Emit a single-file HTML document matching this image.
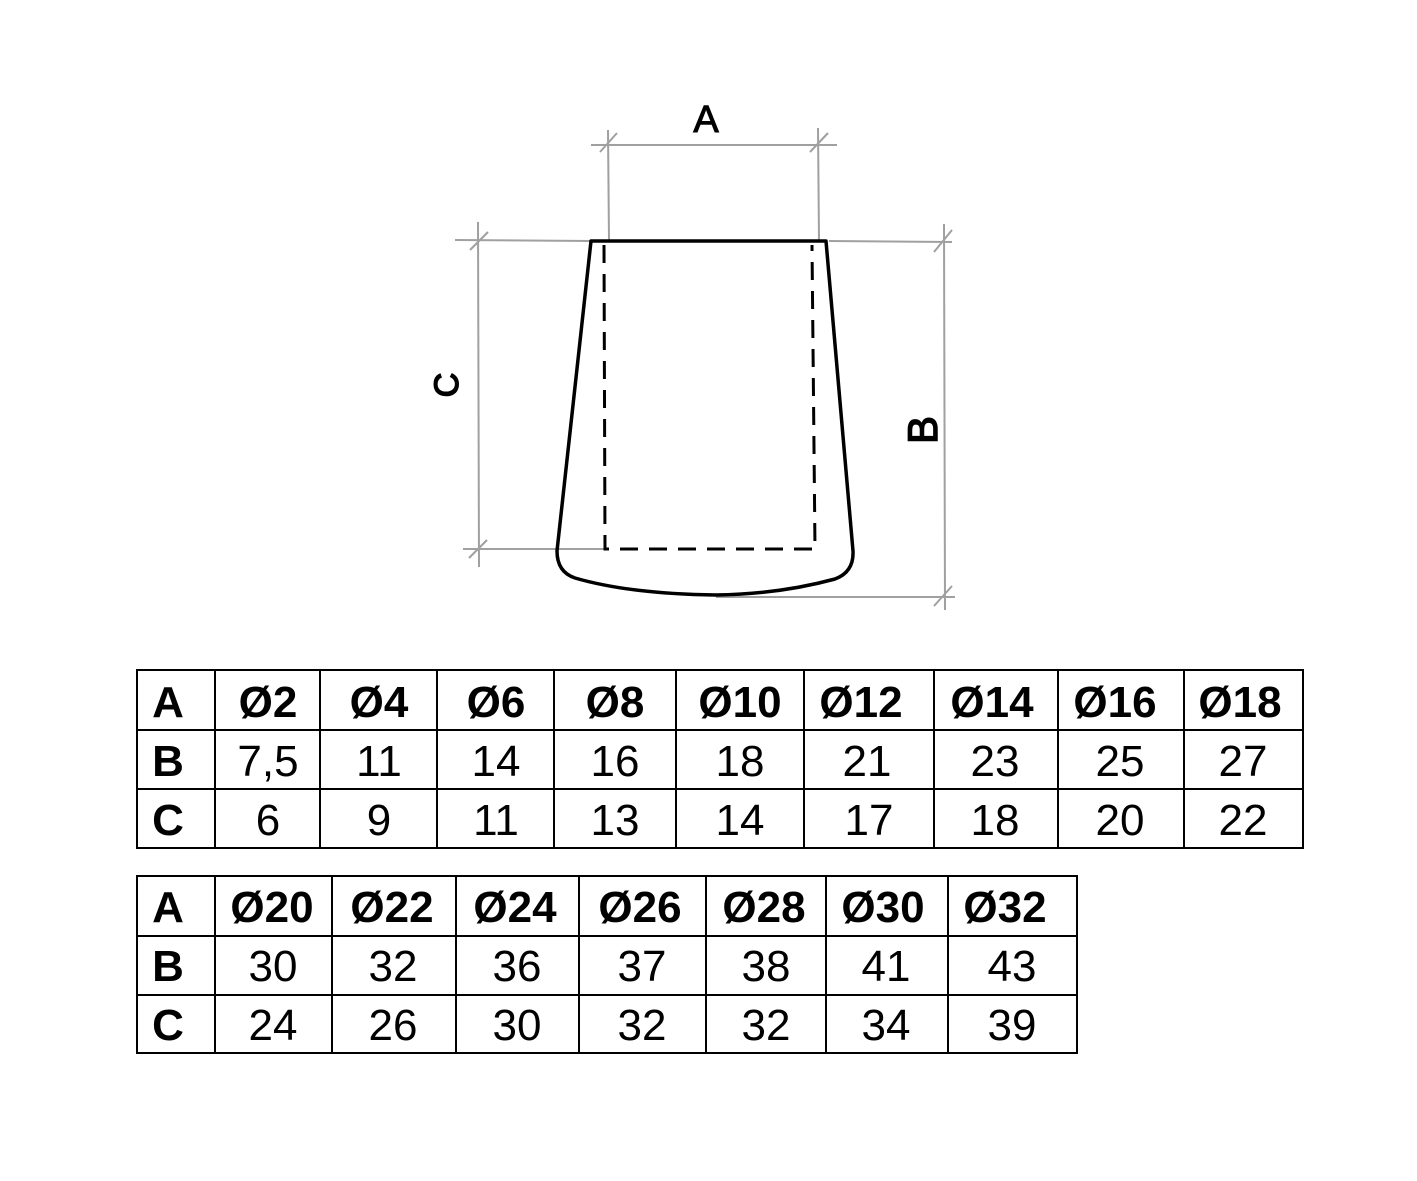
<!DOCTYPE html>
<html><head><meta charset="utf-8"><style>
html,body{margin:0;padding:0;background:#fff;}
svg{display:block;}
text{font-family:"Liberation Sans",Arial,sans-serif;font-size:44px;fill:#000;}
.b{font-weight:bold;}
</style></head><body>
<svg width="1417" height="1181" viewBox="0 0 1417 1181" xmlns="http://www.w3.org/2000/svg">
<rect width="1417" height="1181" fill="#fff"/>
<g stroke="#a0a0a0" stroke-width="2" fill="none">
<line x1="591" y1="145" x2="837" y2="145"/>
<line x1="608" y1="130" x2="609" y2="241"/>
<line x1="818" y1="128" x2="819" y2="241"/>
<line x1="600" y1="152" x2="617" y2="133"/>
<line x1="810" y1="152" x2="828" y2="133"/>
<line x1="455" y1="240" x2="591" y2="241"/>
<line x1="463" y1="549" x2="604" y2="549"/>
<line x1="478" y1="222" x2="479" y2="567"/>
<line x1="470" y1="250" x2="488" y2="232"/>
<line x1="469" y1="558" x2="487" y2="540"/>
<line x1="829" y1="241" x2="952" y2="242"/>
<line x1="716" y1="597" x2="955" y2="597"/>
<line x1="944" y1="224" x2="945" y2="610"/>
<line x1="934" y1="252" x2="952" y2="230"/>
<line x1="934" y1="606" x2="952" y2="586"/>
</g>
<path d="M591,241 L826,241 L853,551 Q854,572 835,579 Q780,594 716,595 Q630,594 575,578 Q557,572 557,551 Z" fill="none" stroke="#000" stroke-width="3.5" stroke-linejoin="round"/>
<path d="M604,245 L605,549 L815,549 L812,245" fill="none" stroke="#000" stroke-width="3" stroke-dasharray="18,11"/>
<text x="706" y="132" text-anchor="middle" style="font-size:38px" stroke="#000" stroke-width="1">A</text>
<text transform="translate(458,385) rotate(-90)" text-anchor="middle" style="font-size:34px" stroke="#000" stroke-width="1.5">C</text>
<text transform="translate(937,430) rotate(-90)" text-anchor="middle" style="font-size:42px" stroke="#000" stroke-width="1.5">B</text>

<g stroke="#000" stroke-width="2" fill="none">
<rect x="137" y="670" width="1166" height="178"/>
<line x1="137" y1="730" x2="1303" y2="730"/>
<line x1="137" y1="789" x2="1303" y2="789"/>
<line x1="215" y1="670" x2="215" y2="848"/>
<line x1="320" y1="670" x2="320" y2="848"/>
<line x1="437" y1="670" x2="437" y2="848"/>
<line x1="554" y1="670" x2="554" y2="848"/>
<line x1="676" y1="670" x2="676" y2="848"/>
<line x1="804" y1="670" x2="804" y2="848"/>
<line x1="934" y1="670" x2="934" y2="848"/>
<line x1="1058" y1="670" x2="1058" y2="848"/>
<line x1="1184" y1="670" x2="1184" y2="848"/>
</g>
<g text-anchor="middle">
<text class="b" x="168" y="717">A</text><text class="b" x="168" y="776">B</text><text class="b" x="168" y="835">C</text>
<text class="b" x="268" y="717">Ø2</text><text class="b" x="379" y="717">Ø4</text><text class="b" x="496" y="717">Ø6</text><text class="b" x="615" y="717">Ø8</text><text class="b" x="740" y="717">Ø10</text><text class="b" x="861" y="717">Ø12</text><text class="b" x="992" y="717">Ø14</text><text class="b" x="1115" y="717">Ø16</text><text class="b" x="1240" y="717">Ø18</text>
<text x="268" y="776">7,5</text><text x="379" y="776">11</text><text x="496" y="776">14</text><text x="615" y="776">16</text><text x="740" y="776">18</text><text x="867" y="776">21</text><text x="995" y="776">23</text><text x="1120" y="776">25</text><text x="1243" y="776">27</text>
<text x="268" y="835">6</text><text x="379" y="835">9</text><text x="496" y="835">11</text><text x="615" y="835">13</text><text x="740" y="835">14</text><text x="869" y="835">17</text><text x="995" y="835">18</text><text x="1120" y="835">20</text><text x="1243" y="835">22</text>
</g>

<g stroke="#000" stroke-width="2" fill="none">
<rect x="137" y="876" width="940" height="177"/>
<line x1="137" y1="936" x2="1077" y2="936"/>
<line x1="137" y1="995" x2="1077" y2="995"/>
<line x1="215" y1="876" x2="215" y2="1053"/>
<line x1="332" y1="876" x2="332" y2="1053"/>
<line x1="456" y1="876" x2="456" y2="1053"/>
<line x1="579" y1="876" x2="579" y2="1053"/>
<line x1="706" y1="876" x2="706" y2="1053"/>
<line x1="826" y1="876" x2="826" y2="1053"/>
<line x1="948" y1="876" x2="948" y2="1053"/>
</g>
<g text-anchor="middle">
<text class="b" x="168" y="922">A</text><text class="b" x="168" y="981">B</text><text class="b" x="168" y="1040">C</text>
<text class="b" x="272" y="922">Ø20</text><text class="b" x="392" y="922">Ø22</text><text class="b" x="515" y="922">Ø24</text><text class="b" x="640" y="922">Ø26</text><text class="b" x="764" y="922">Ø28</text><text class="b" x="883" y="922">Ø30</text><text class="b" x="1005" y="922">Ø32</text>
<text x="273" y="981">30</text><text x="393" y="981">32</text><text x="517" y="981">36</text><text x="642" y="981">37</text><text x="766" y="981">38</text><text x="886" y="981">41</text><text x="1012" y="981">43</text>
<text x="273" y="1040">24</text><text x="393" y="1040">26</text><text x="517" y="1040">30</text><text x="642" y="1040">32</text><text x="766" y="1040">32</text><text x="886" y="1040">34</text><text x="1012" y="1040">39</text>
</g>
</svg>
</body></html>
